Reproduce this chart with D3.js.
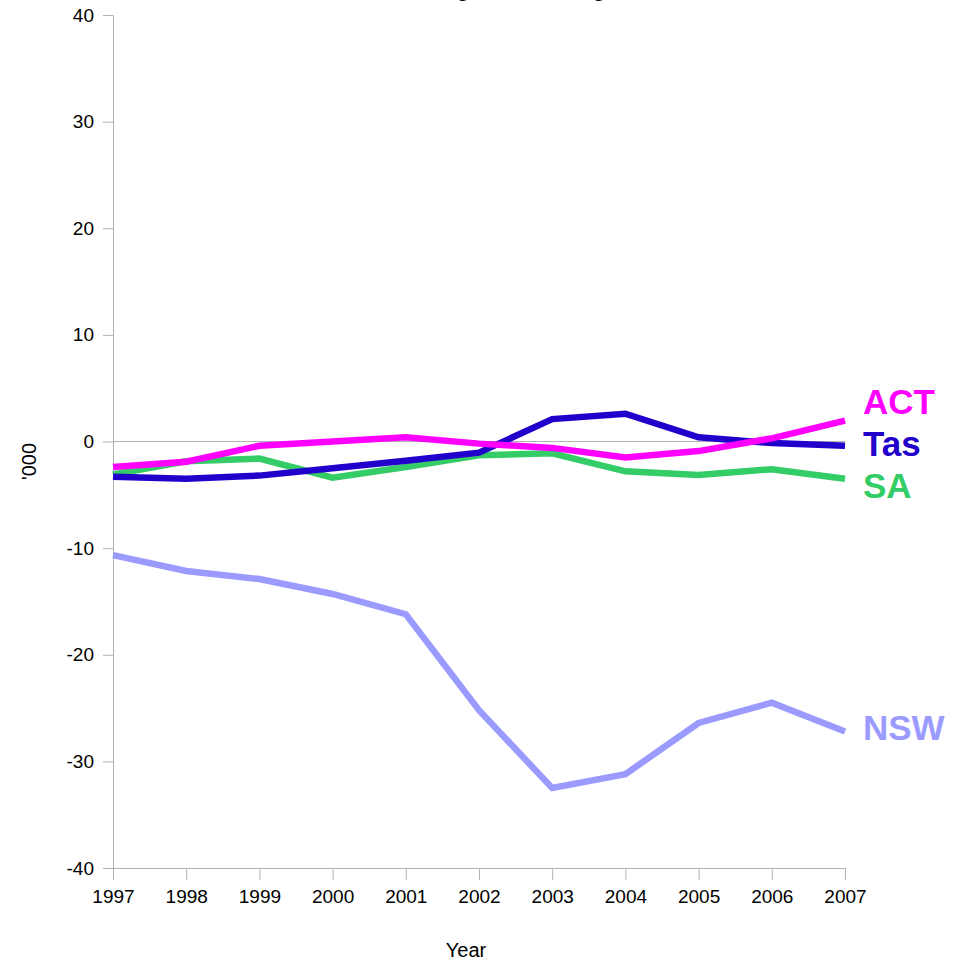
<!DOCTYPE html>
<html>
<head>
<meta charset="utf-8">
<script src="https://cdn.jsdelivr.net/npm/d3@7"></script>
<style>
    body { margin: 0; background: #fff; }
    text { font-family: "Liberation Sans", Arial, sans-serif; }
</style>
</head>
<body>
<script>
// Net interstate migration - states losing people ('000)
var years = [1997, 1998, 1999, 2000, 2001, 2002, 2003, 2004, 2005, 2006, 2007];
var yTicks = [-40, -30, -20, -10, 0, 10, 20, 30, 40];

var actValues = [-2.4, -1.9, -0.4, 0.0, 0.4, -0.2, -0.6, -1.5, -0.9, 0.3, 1.95];
var tasValues = [-3.3, -3.5, -3.2, -2.5, -1.8, -1.05, 2.1, 2.6, 0.4, -0.15, -0.4];
var saValues = [-3.1, -1.85, -1.6, -3.4, -2.4, -1.3, -1.1, -2.8, -3.15, -2.6, -3.5];
var nswValues = [-10.65, -12.15, -12.9, -14.3, -16.2, -25.2, -32.5, -31.2, -26.4, -24.5, -27.2];

var seriesNames = ["NSW", "SA", "Tas", "ACT"];
var seriesColours = ["#9b9bff", "#33cc66", "#2200cc", "#ff00ff"];
var seriesData = [nswValues, saValues, tasValues, actValues];

var margin = { top: 15, right: 123, bottom: 102, left: 113 },
    width = 968 - margin.left - margin.right,
    height = 970 - margin.top - margin.bottom;

var svg = d3.select("body").append("svg")
    .attr("width", 968)
    .attr("height", 970)
    .append("g")
    .attr("transform", "translate(" + margin.left + "," + margin.top + ")");

var x = d3.scaleLinear()
    .domain([years[0], years[years.length - 1]])
    .range([0, width]);

var y = d3.scaleLinear()
    .domain([-40, 40])
    .range([height, 0]);

// Title, mostly cut off at the top of the picture
svg.append("text")
    .attr("x", width / 2)
    .attr("y", -margin.top - 4)
    .attr("text-anchor", "middle")
    .attr("font-size", "24px")
    .text("Net interstate migration, losing states");

// Zero line
svg.append("line")
    .attr("x1", 0)
    .attr("x2", width)
    .attr("y1", y(0))
    .attr("y2", y(0))
    .attr("stroke", "#b3b3b3")
    .attr("stroke-width", 1);

// y-axis (plain hyphen minus like the original)
var yAxis = svg.append("g")
    .call(d3.axisLeft(y).tickValues(yTicks).tickSize(10).tickPadding(9)
        .tickFormat(function (d) { return String(d); }));
yAxis.selectAll("text").attr("font-size", "19px").attr("fill", "#000")
    .style("font-family", "'Liberation Sans', Arial, sans-serif");
yAxis.selectAll("line, path").attr("stroke", "#b3b3b3");

// x-axis
var xAxis = svg.append("g")
    .attr("transform", "translate(0," + height + ")")
    .call(d3.axisBottom(x).tickValues(years).tickFormat(d3.format("d")).tickSize(12).tickPadding(10));
xAxis.selectAll("text").attr("font-size", "19px").attr("fill", "#000")
    .style("font-family", "'Liberation Sans', Arial, sans-serif");
xAxis.selectAll("line, path").attr("stroke", "#b3b3b3");

// Axis titles
svg.append("text")
    .attr("x", width / 2 - 13)
    .attr("y", height + 89)
    .attr("text-anchor", "middle")
    .attr("font-size", "20px")
    .text("Year");

svg.append("text")
    .attr("transform", "rotate(-90)")
    .attr("x", -(y(0) + 20))
    .attr("y", -77)
    .attr("text-anchor", "middle")
    .attr("font-size", "20px")
    .text("'000");

// Lines
var line = d3.line()
    .x(function (d, i) { return x(years[i]); })
    .y(function (d) { return y(d); });

seriesData.forEach(function (values, i) {
    svg.append("path")
        .datum(values)
        .attr("fill", "none")
        .attr("stroke", seriesColours[i])
        .attr("stroke-width", 6.5)
        .attr("stroke-linejoin", "miter")
        .attr("d", line);
});

// End labels, pushed apart so they do not overlap
var labels = seriesNames.map(function (name, i) {
    var vals = seriesData[i];
    return { name: name, colour: seriesColours[i], ly: y(vals[vals.length - 1]) };
});
labels.sort(function (a, b) { return a.ly - b.ly; });
var gap = 42;
for (var k = 0; k < 50; k++) {
    for (var j = 1; j < labels.length; j++) {
        var overlap = labels[j - 1].ly + gap - labels[j].ly;
        if (overlap > 0) {
            labels[j - 1].ly -= overlap / 2;
            labels[j].ly += overlap / 2;
        }
    }
}

svg.selectAll(".end-label")
    .data(labels)
    .enter().append("text")
    .attr("class", "end-label")
    .attr("x", width + 18)
    .attr("y", function (d) { return d.ly + 8; })
    .attr("font-size", "35px")
    .attr("font-weight", "bold")
    .attr("fill", function (d) { return d.colour; })
    .text(function (d) { return d.name; });
</script>
</body>
</html>
